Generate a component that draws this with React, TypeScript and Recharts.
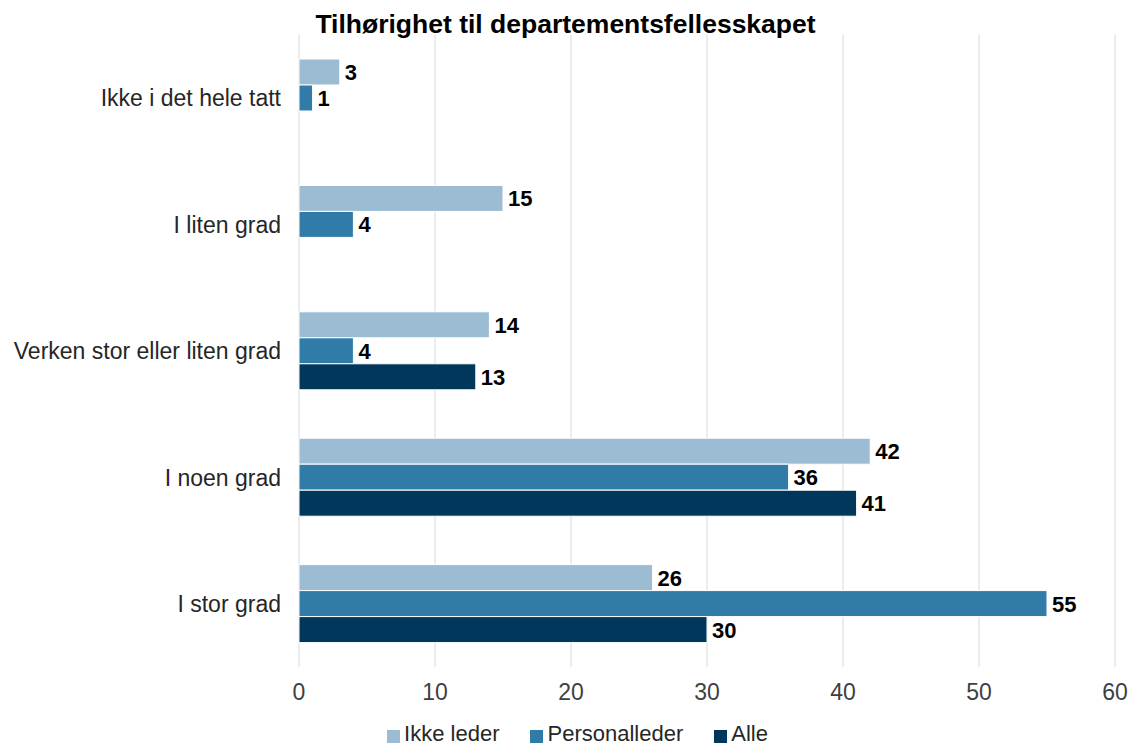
import React from 'react';
import {
  BarChart,
  Bar,
  XAxis,
  YAxis,
  CartesianGrid,
  Legend,
  LabelList,
} from 'recharts';

const categories = [
  'Ikke i det hele tatt',
  'I liten grad',
  'Verken stor eller liten grad',
  'I noen grad',
  'I stor grad',
];
const ikkeLeder = [3, 15, 14, 42, 26];
const personalleder = [1, 4, 4, 36, 55];
const alle = [null, null, 13, 41, 30];
const xTicks = [0, 10, 20, 30, 40, 50, 60];

const seriesNames = ['Ikke leder', 'Personalleder', 'Alle'];
const seriesColors = ['#9bbcd3', '#307ba8', '#00375a'];

const data = categories.map((name, i) => ({
  name,
  ikkeLeder: ikkeLeder[i],
  personalleder: personalleder[i],
  alle: alle[i],
}));

const FONT = '"Liberation Sans", Arial, sans-serif';

function ValueLabel(props: any) {
  const { x, y, width, height, value } = props;
  if (value === null || value === undefined) return null;
  return (
    <text
      x={x + width + 5}
      y={y + height / 2}
      dy="0.36em"
      fontSize={22}
      fontWeight="bold"
      fill="#000"
      fontFamily={FONT}
    >
      {value}
    </text>
  );
}

// legend drawn by hand so the order and spacing follow the original
function LegendBox() {
  return (
    <div
      style={{
        display: 'flex',
        justifyContent: 'center',
        alignItems: 'center',
        height: 24,
        paddingLeft: 24,
        fontFamily: FONT,
        fontSize: 22,
        lineHeight: '24px',
        color: '#262626',
      }}
    >
      {seriesNames.map((n, i) => (
        <div key={n} style={{ display: 'flex', alignItems: 'center', marginRight: i < 2 ? 31 : 0 }}>
          <span
            style={{
              display: 'inline-block',
              width: 13,
              height: 13,
              marginTop: 4,
              marginRight: 4,
              background: seriesColors[i],
            }}
          />
          <span>{n}</span>
        </div>
      ))}
    </div>
  );
}

export default function App() {
  return (
    <div style={{ position: 'relative', width: 1131, height: 747, fontFamily: FONT }}>
      <style>{'body{margin:0;background:#fff}'}</style>
      <div
        style={{
          position: 'absolute',
          top: 9,
          left: 0,
          width: 1131,
          textAlign: 'center',
          fontSize: 26.5,
          fontWeight: 'bold',
          color: '#000',
        }}
      >
        Tilhørighet til departementsfellesskapet
      </div>
      <BarChart
        width={1131}
        height={747}
        data={data}
        layout="vertical"
        margin={{ top: 35, right: 16, bottom: 0, left: 0 }}
        barGap={0}
        barCategoryGap={24}
      >
        <CartesianGrid horizontal={false} stroke="#d9d9d9" />
        <XAxis
          type="number"
          domain={[0, 60]}
          ticks={xTicks}
          axisLine={false}
          tickLine={false}
          tickMargin={11}
          height={56}
          tick={{ fontSize: 23, fill: '#404040', fontFamily: FONT }}
        />
        <YAxis
          type="category"
          dataKey="name"
          width={299}
          axisLine={false}
          tickLine={false}
          tickMargin={12}
          tick={{ fontSize: 23, fill: '#262626', fontFamily: FONT }}
        />
        <Legend
          verticalAlign="bottom"
          content={<LegendBox />}
          wrapperStyle={{ left: 0, width: 1131, bottom: 1 }}
        />
        <Bar dataKey="ikkeLeder" name="Ikke leder" fill={seriesColors[0]} stroke="#fff" strokeWidth={1} barSize={26} isAnimationActive={false}>
          <LabelList dataKey="ikkeLeder" content={ValueLabel} />
        </Bar>
        <Bar dataKey="personalleder" name="Personalleder" fill={seriesColors[1]} stroke="#fff" strokeWidth={1} barSize={26} isAnimationActive={false}>
          <LabelList dataKey="personalleder" content={ValueLabel} />
        </Bar>
        <Bar dataKey="alle" name="Alle" fill={seriesColors[2]} stroke="#fff" strokeWidth={1} barSize={26} isAnimationActive={false}>
          <LabelList dataKey="alle" content={ValueLabel} />
        </Bar>
      </BarChart>
    </div>
  );
}
